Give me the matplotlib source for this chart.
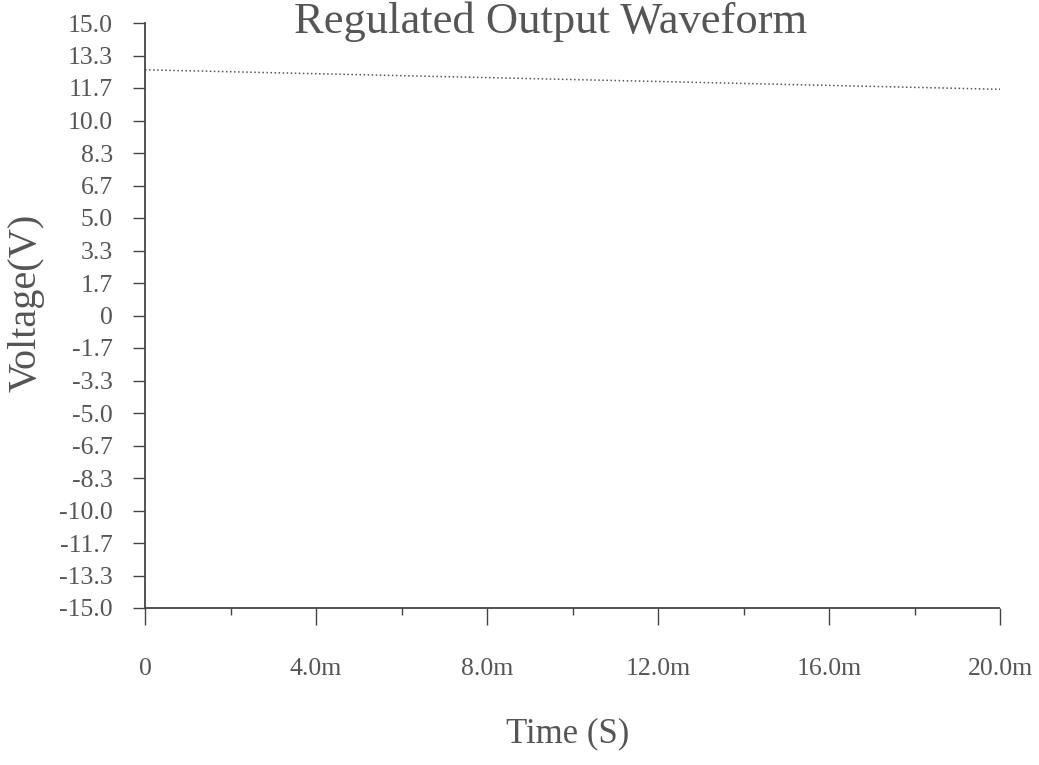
import matplotlib
matplotlib.use("Agg")
import matplotlib.pyplot as plt
import numpy as np

# Data
time_ms = [0, 8, 20]
voltage = [12.6, 12.2, 11.6]

y_tick_labels = ["15.0", "13.3", "11.7", "10.0", "8.3", "6.7", "5.0", "3.3", "1.7",
                 "0", "-1.7", "-3.3", "-5.0", "-6.7", "-8.3", "-10.0", "-11.7",
                 "-13.3", "-15.0"]
x_major = [0, 4, 8, 12, 16, 20]
x_major_labels = ["0", "4.0m", "8.0m", "12.0m", "16.0m", "20.0m"]
x_minor = [2, 6, 10, 14, 18]

title = "Regulated Output Waveform"
xlabel = "Time (S)"
ylabel = "Voltage(V)"

plt.rcParams['font.family'] = ['Liberation Serif', 'DejaVu Serif']
tc = '#555555'

fig = plt.figure(figsize=(10.39, 7.65), dpi=100)
ax = fig.add_axes([145/1039, 1-608/765, (1000-145)/1039, (608-23)/765])

ax.plot(time_ms, voltage, linestyle=':', color='#555555', linewidth=1.1)

ax.set_xlim(0, 20)
ax.set_ylim(-15, 15)

ypos = np.linspace(15, -15, len(y_tick_labels))
ax.set_yticks(ypos)
ax.set_yticklabels(y_tick_labels)
ax.set_xticks(x_major)
ax.set_xticklabels(x_major_labels)
ax.set_xticks(x_minor, minor=True)

ax.tick_params(axis='y', direction='out', length=9, width=1, color='#444444',
               labelsize=18.5, labelcolor=tc, pad=14)
ax.tick_params(axis='x', which='major', direction='out', length=12, width=1,
               color='#444444', labelsize=18.5, labelcolor=tc, pad=24)
ax.tick_params(axis='x', which='minor', direction='out', length=5, width=1,
               color='#444444')

for s in ['top', 'right']:
    ax.spines[s].set_visible(False)
for s in ['left', 'bottom']:
    ax.spines[s].set_color('#444444')
    ax.spines[s].set_linewidth(1.3)
    ax.spines[s].set_linestyle((0, (1, 1)))

fig.text(26/1039, 1-303/765, ylabel, rotation=90, ha='center', va='center',
         fontsize=29, color=tc)
fig.text(568/1039, 1-734/765, xlabel, ha='center', va='center',
         fontsize=25, color=tc)
fig.text(551/1039, 1-1/765, title, ha='center', va='top',
         fontsize=32, color=tc)

fig.savefig("out.png", dpi=100)
